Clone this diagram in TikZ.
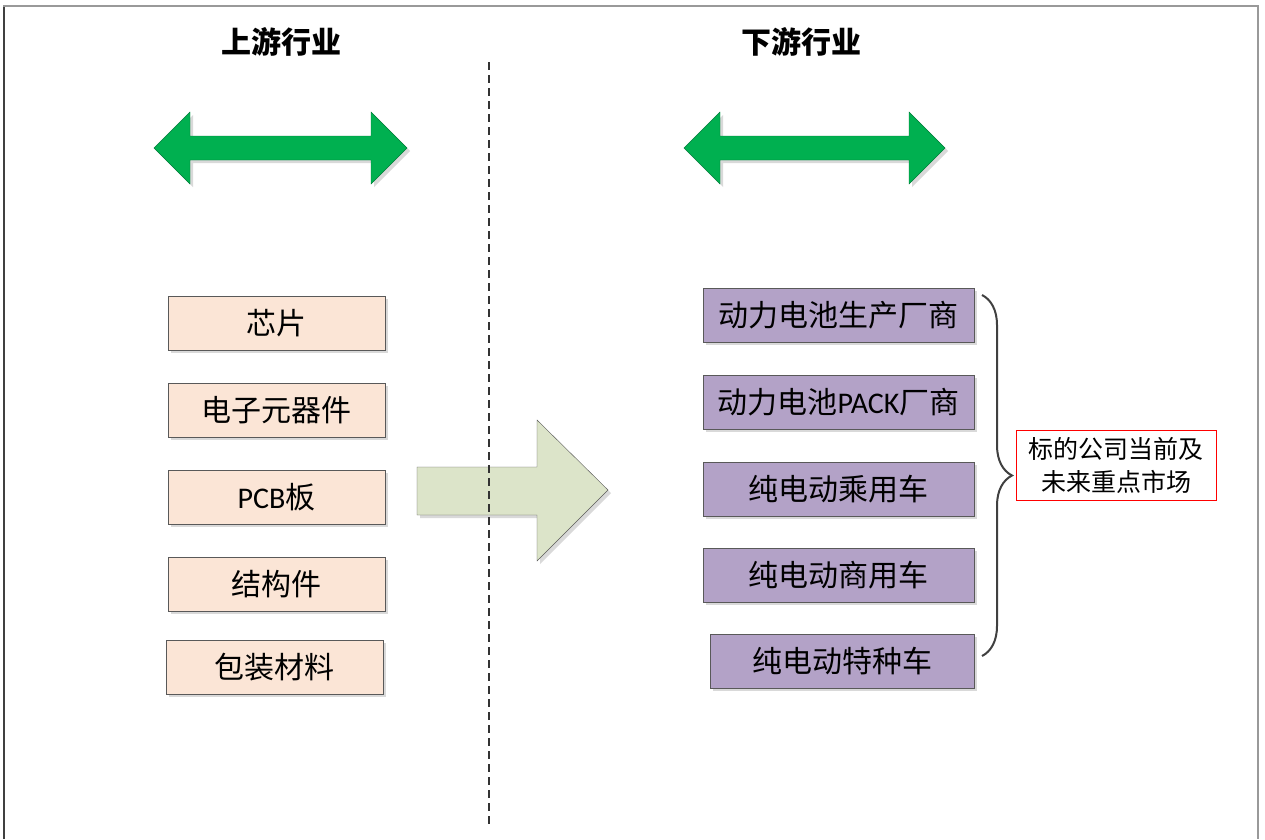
\documentclass[tikz,border=0pt]{standalone}
\usepackage{fontspec}
\setmainfont{Noto Sans CJK SC}
\newfontfamily\latin{Carlito}
\usetikzlibrary{positioning,shadows,decorations.pathreplacing}

\definecolor{peach}{HTML}{FBE5D6}
\definecolor{lilac}{HTML}{B3A2C7}
\definecolor{arrowgreen}{HTML}{00B050}
\definecolor{palegreen}{HTML}{DCE4C9}
\definecolor{edgegray}{HTML}{595959}

\tikzset{
  boxshadow/.style={drop shadow={shadow xshift=3pt,shadow yshift=-3pt,fill=black!15,opacity=1}},
  upbox/.style={draw=edgegray,fill=peach,minimum width=217pt,minimum height=54pt,
    inner sep=0pt,boxshadow,font=\fontsize{30}{34}\selectfont},
  downbox/.style={draw=edgegray,fill=lilac,minimum width=271pt,minimum height=54pt,
    inner sep=0pt,boxshadow,font=\fontsize{30}{34}\selectfont},
  title/.style={font=\fontsize{30}{34}\selectfont\bfseries}
}

\begin{document}
\begin{tikzpicture}[x=1pt,y=-1pt,node distance=87pt]
	 \useasboundingbox (0,0) rectangle (1265,839);
	 % frame
	 \draw[black!40,line width=2pt] (4,839) -- (4,6) -- (1258,6) -- (1258,839);
	 \draw[black!75,line width=1.5pt] (4,7) -- (4,839);

	 % titles
	 \node[title] (up)   at (281,42) {上游行业};
	 \node[title] (down) at (801,42) {下游行业};

	 % green double arrows
	 \foreach \a/\b in {154/407, 684/945}
	   \draw[arrowgreen!70!black,fill=arrowgreen,boxshadow]
	     (\a,148) -- (\a+36,112) -- (\a+36,136) -- (\b-36,136) -- (\b-36,112)
	     -- (\b,148) -- (\b-36,184) -- (\b-36,160) -- (\a+36,160) -- (\a+36,184) -- cycle;

	 % upstream
	 \node[upbox] (chip) at (276.5,323) {芯片};
	 \node[upbox] (elec) [below of=chip] {电子元器件};
	 \node[upbox] (pcb)  [below of=elec] {{\latin PCB}板};
	 \node[upbox] (struct) [below of=pcb] {结构件};
	 \node[upbox] (pack) at (274.5,667) {包装材料};

	 % big arrow
	 \draw[edgegray,fill=palegreen,boxshadow]
	   (417,467) -- (537,467) -- (537,420) -- (608,490) -- (537,561) -- (537,515) -- (417,515) -- cycle;

	 % dividing line
	 \coordinate (divtop) at (489,62);
	 \coordinate (divbot) at (489,828);
	 \draw[black!80,line width=2.2pt,dash pattern=on 8pt off 5pt] (divtop) -- (divbot);

	 % downstream
	 \node[downbox] (cell) at (838.5,315) {动力电池生产厂商};
	 \node[downbox] (packmaker) [below of=cell] {动力电池{\latin PACK}厂商};
	 \node[downbox] (car) [below of=packmaker] {纯电动乘用车};
	 \node[downbox] (bus) at (838.5,575) {纯电动商用车};
	 \node[downbox,minimum width=264pt] (special) at (842,661) {纯电动特种车};

	 % brace and note
	 \coordinate (bracetop) at (982,295);
	 \coordinate (bracebot) at (982,656);
	 \draw[black!75,line width=2pt,decorate,decoration={brace,amplitude=30pt}] (bracetop) -- (bracebot);
	 \node[draw=red,minimum width=200pt,minimum height=70pt,align=center,
	   font=\fontsize{25}{33}\selectfont] (note) at (1116,465) {标的公司当前及\\未来重点市场};
\end{tikzpicture}
\end{document}
